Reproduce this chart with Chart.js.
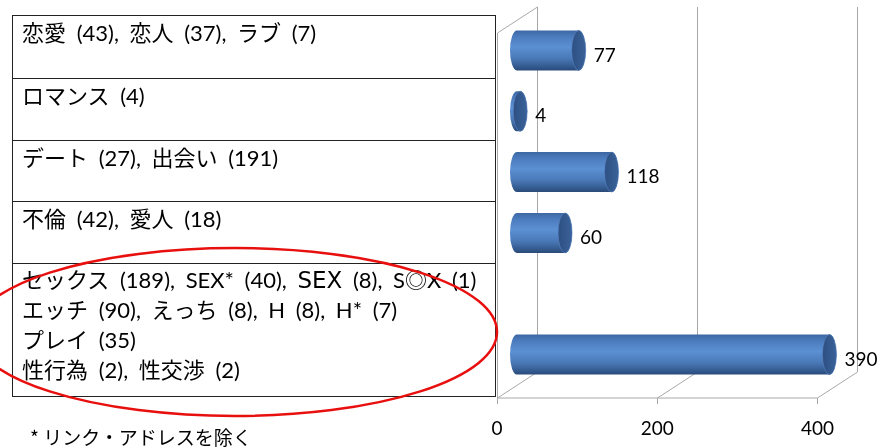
<!DOCTYPE html>
<html>
<head>
<meta charset="utf-8">
<script src="https://cdn.jsdelivr.net/npm/chart.js@4.4.1/dist/chart.umd.min.js"></script>
<style>
  html,body{margin:0;padding:0;background:#fff;}
  #wrap{position:relative;width:886px;height:448px;overflow:hidden;}
  #c{position:absolute;left:0;top:0;}
  #tbl{position:absolute;left:12px;top:15px;width:484px;border:1.5px solid #222;box-sizing:border-box;
       font-family:"Lato","Noto Sans CJK JP",sans-serif;font-size:22px;word-spacing:5px;color:#000;}
  .row{box-sizing:border-box;border-bottom:1.5px solid #222;padding:0 0 0 9px;line-height:30px;white-space:nowrap;}
  .row:last-child{border-bottom:none;}
  .wide{font-family:"DejaVu Sans","Noto Sans CJK JP",sans-serif;font-size:23px;}
  #note{position:absolute;left:30px;top:424px;font-family:"Noto Sans CJK JP",sans-serif;font-size:19px;line-height:26px;color:#000;white-space:nowrap;}
  #ov{position:absolute;left:0;top:0;pointer-events:none;}
</style>
</head>
<body>
<div id="wrap">
  <canvas id="c" width="886" height="448"></canvas>
  <div id="tbl"></div>
  <div id="note"></div>
  <svg id="ov" width="886" height="448"><ellipse cx="235" cy="332" rx="262" ry="84" fill="none" stroke="#e8100f" stroke-width="2.5"/></svg>
</div>
<script>
// ---- data ----
const categories = ['恋愛・恋人・ラブ', 'ロマンス', 'デート・出会い', '不倫・愛人', '', 'セックス・エッチ・プレイ・性行為・性交渉'];
const values = [77, 4, 118, 60, null, 390];
const xTicks = [0, 200, 400];
const row1 = ['恋愛 (43), 恋人 (37), ラブ (7)'];
const row2 = ['ロマンス (4)'];
const row3 = ['デート (27), 出会い (191)'];
const row4 = ['不倫 (42), 愛人 (18)'];
const row5 = ['セックス (189), SEX* (40), SEX (8), S◎X (1)', 'エッチ (90), えっち (8), H (8), H* (7)', 'プレイ (35)', '性行為 (2), 性交渉 (2)'];
const footnote = '* リンク・アドレスを除く';

// ---- layout ----
const rowHeights = [63, 62, 61, 62, 132];
const tbl = document.getElementById('tbl');
[row1, row2, row3, row4, row5].forEach((lines, i) => {
  const d = document.createElement('div');
  d.className = 'row';
  d.style.height = rowHeights[i] + 'px';
  d.style.paddingTop = (i === 4 ? 1 : 2) + 'px';
  lines.forEach(t => {
    const l = document.createElement('div');
    const m = t.match(/^(.*?, )SEX( \(8\).*)$/);
    if (m) {
      l.appendChild(document.createTextNode(m[1]));
      const s = document.createElement('span'); s.className = 'wide'; s.textContent = 'SEX';
      l.appendChild(s);
      l.appendChild(document.createTextNode(m[2]));
    } else l.textContent = t;
    d.appendChild(l);
  });
  tbl.appendChild(d);
});
document.getElementById('note').textContent = footnote;

const DX = 20, DY = 13;
const cyl3d = {
  id: 'cyl3d',
  beforeDatasetsDraw(chart) {
    const {ctx, chartArea: a, scales: {x}} = chart;
    const L = (x1, y1, x2, y2) => { ctx.beginPath(); ctx.moveTo(x1, y1); ctx.lineTo(x2, y2); ctx.stroke(); };
    ctx.save();
    ctx.strokeStyle = '#a8a8a8'; ctx.lineWidth = 1;
    const x0 = Math.round(x.getPixelForValue(xTicks[0])) + 0.5;
    const xN = Math.round(x.getPixelForValue(xTicks[xTicks.length - 1])) + 0.5;
    xTicks.forEach(v => {
      const p = Math.round(x.getPixelForValue(v)) + 0.5;
      L(p + DX, a.top - DY, p + DX, a.bottom - DY);
      L(p - DX, a.bottom + DY, p + DX, a.bottom - DY);
      L(p - DX, a.bottom + DY, p - DX, a.bottom + DY + 6);
    });
    L(x0 - DX, a.bottom + DY, xN - DX, a.bottom + DY);
    L(x0 - DX, a.top + DY, x0 + DX, a.top - DY);
    L(x0 - DX, a.top + DY, x0 - DX, a.bottom + DY);
    ctx.restore();
  },
  afterDatasetsDraw(chart) {
    const {ctx} = chart;
    const meta = chart.getDatasetMeta(0);
    ctx.save();
    meta.data.forEach((bar, i) => {
      const v = values[i];
      if (v === null || v === undefined) return;
      const {x: xe, y: cy, base: xs, height: h} = bar.getProps(['x', 'y', 'base', 'height'], true);
      const ry = h / 2, rx = 7, top = cy - ry, bot = cy + ry;
      const g = ctx.createLinearGradient(0, top, 0, bot);
      g.addColorStop(0, '#3c67a3');
      g.addColorStop(0.15, '#4b7bbd');
      g.addColorStop(0.42, '#5b90d3');
      g.addColorStop(0.7, '#4a79b7');
      g.addColorStop(0.9, '#345b90');
      g.addColorStop(1, '#2a4a78');
      ctx.beginPath();
      ctx.moveTo(xs, top);
      ctx.lineTo(xe, top);
      ctx.ellipse(xe, cy, rx, ry, 0, -Math.PI / 2, Math.PI / 2);
      ctx.lineTo(xs, bot);
      ctx.ellipse(xs, cy, rx, ry, 0, Math.PI / 2, Math.PI * 1.5);
      ctx.closePath();
      ctx.fillStyle = g; ctx.fill();
      const g2 = ctx.createLinearGradient(xe - rx, 0, xe + rx, 0);
      g2.addColorStop(0, '#2d5083');
      g2.addColorStop(1, '#3a6298');
      ctx.beginPath();
      ctx.ellipse(xe, cy, rx, ry, 0, 0, Math.PI * 2);
      ctx.fillStyle = g2; ctx.fill();
      ctx.strokeStyle = 'rgba(90,130,190,0.6)'; ctx.lineWidth = 1; ctx.stroke();
      ctx.fillStyle = '#000';
      ctx.font = '19px Lato, "Noto Sans", sans-serif';
      ctx.textAlign = 'left'; ctx.textBaseline = 'middle';
      ctx.fillText(String(v), xe + rx + 8, cy + 5);
    });
    ctx.restore();
  }
};

new Chart(document.getElementById('c'), {
  type: 'bar',
  data: {labels: categories, datasets: [{data: values, backgroundColor: 'rgba(0,0,0,0)', borderWidth: 0, barThickness: 40}]},
  options: {
    indexAxis: 'y', responsive: false, animation: false, devicePixelRatio: 1,
    layout: {padding: {left: 517, right: 43, top: 20, bottom: 9}},
    plugins: {legend: {display: false}, tooltip: {enabled: false}},
    scales: {
      x: {
        type: 'linear', min: 0, max: 400,
        afterBuildTicks: s => { s.ticks = xTicks.map(v => ({value: v})); },
        afterFit: s => { s.height = 54; },
        grid: {display: false, drawTicks: false}, border: {display: false},
        ticks: {labelOffset: -DX, padding: 32, color: '#000', font: {family: 'Lato', size: 19}}
      },
      y: {display: false}
    }
  },
  plugins: [cyl3d]
});
</script>
</body>
</html>
